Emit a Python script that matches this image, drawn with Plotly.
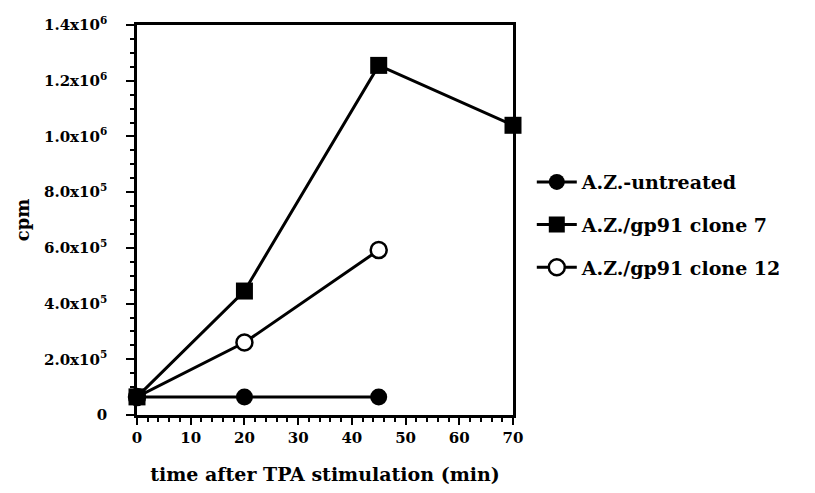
import plotly.graph_objects as go

time_untreated = [0, 20, 45]
cpm_untreated = [65000, 65000, 65000]
time_clone7 = [0, 20, 45, 70]
cpm_clone7 = [65000, 445000, 1255000, 1040000]
time_clone12 = [0, 20, 45]
cpm_clone12 = [65000, 260000, 592000]

y_tickvals = [0, 200000, 400000, 600000, 800000, 1000000, 1200000, 1400000]
y_ticktext = ["0", "2.0x10<sup>5</sup>", "4.0x10<sup>5</sup>", "6.0x10<sup>5</sup>",
              "8.0x10<sup>5</sup>", "1.0x10<sup>6</sup>", "1.2x10<sup>6</sup>", "1.4x10<sup>6</sup>"]
x_tickvals = [0, 10, 20, 30, 40, 50, 60, 70]
x_ticktext = ["0", "10", "20", "30", "40", "50", "60", "70"]

FONT = "DejaVu Serif"
fig = go.Figure()
common = dict(mode="lines+markers", cliponaxis=False, line=dict(color="black", width=3))
fig.add_trace(go.Scatter(x=time_clone12, y=cpm_clone12, name="<b>A.Z./gp91 clone 12</b>",
                         legendrank=3, legendgroup="c",
                         marker=dict(symbol="circle", size=16, color="white",
                                     line=dict(color="black", width=2.5)), **common))
fig.add_trace(go.Scatter(x=time_untreated, y=cpm_untreated, name="<b>A.Z.-untreated</b>",
                         legendrank=1, legendgroup="a",
                         marker=dict(symbol="circle", size=17, color="black"), **common))
fig.add_trace(go.Scatter(x=time_clone7, y=cpm_clone7, name="<b>A.Z./gp91 clone 7</b>",
                         legendrank=2, legendgroup="b",
                         marker=dict(symbol="square", size=17, color="black"), **common))

fig.update_layout(
    width=815, height=493,
    margin=dict(l=137, r=302, t=25, b=78),
    plot_bgcolor="white", paper_bgcolor="white",
    font=dict(family=FONT, color="black"),
    showlegend=True,
    legend=dict(x=1.05, y=0.487, xanchor="left", yanchor="middle",
                font=dict(family=FONT, size=19, color="black"),
                tracegroupgap=15, itemwidth=40, bgcolor="rgba(0,0,0,0)",
                traceorder="grouped"),
    xaxis=dict(range=[0, 70], tickvals=x_tickvals, ticktext=["<b>%s</b>" % t for t in x_ticktext],
               showgrid=False, zeroline=False, showline=True, linecolor="black", linewidth=2.5,
               mirror=True, ticks="outside", ticklen=7, tickwidth=2, tickcolor="black",
               minor=dict(dtick=2, ticks="outside", ticklen=4, tickwidth=1.5, tickcolor="black"),
               tickfont=dict(family=FONT, size=15),
               title=dict(text="<b>time after TPA stimulation (min)</b>", standoff=22,
                          font=dict(family=FONT, size=19))),
    yaxis=dict(range=[0, 1400000], tickvals=y_tickvals, ticktext=["<b>%s</b>" % t for t in y_ticktext],
               showgrid=False, zeroline=False, showline=True, linecolor="black", linewidth=2.5,
               mirror=True, ticks="outside", ticklen=8, tickwidth=2, tickcolor="black",
               ticklabelstandoff=16,
               minor=dict(dtick=50000, ticks="outside", ticklen=4, tickwidth=1.5, tickcolor="black"),
               tickfont=dict(family=FONT, size=15),
               title=dict(text="<b>cpm</b>", standoff=10,
                          font=dict(family=FONT, size=18))),
)

fig.write_html("out.html")
